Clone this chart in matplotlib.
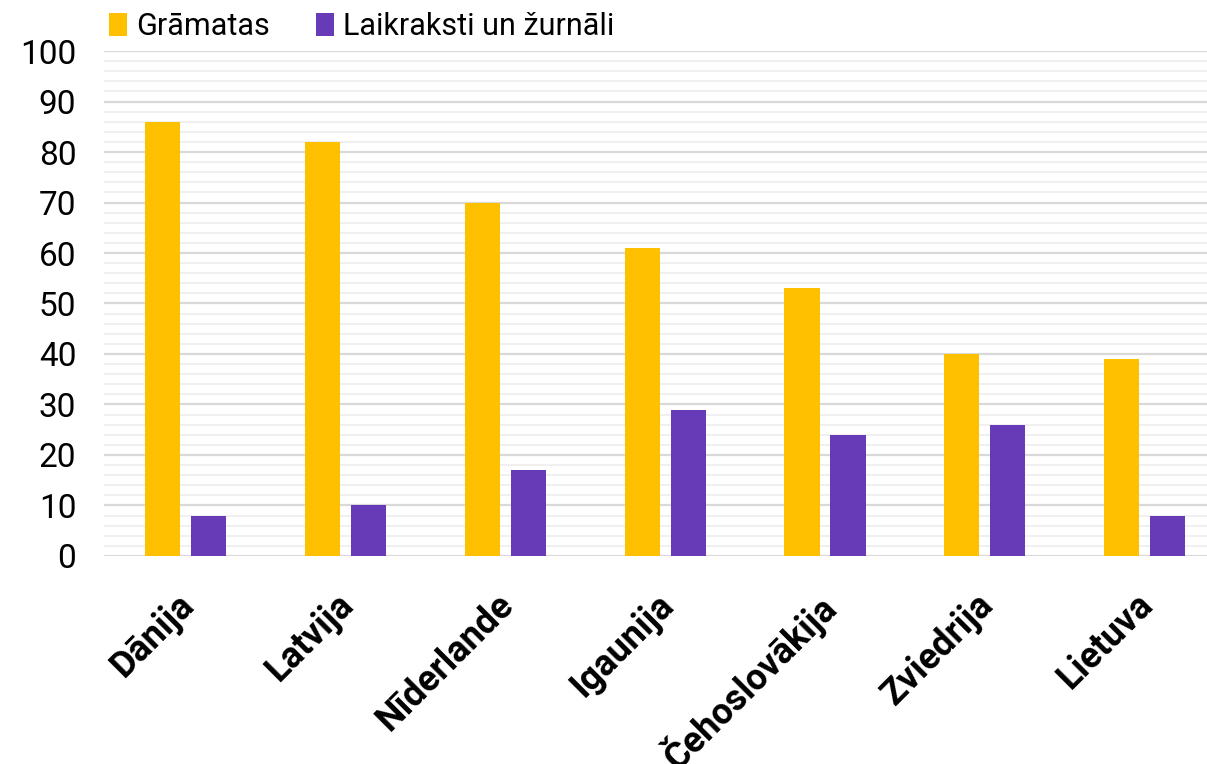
import matplotlib.pyplot as plt
import numpy as np
from matplotlib.ticker import MultipleLocator
from matplotlib.transforms import ScaledTranslation

countries = ["Dānija", "Latvija", "Nīderlande", "Igaunija",
             "Čehoslovākija", "Zviedrija", "Lietuva"]
books = [86, 82, 70, 61, 53, 40, 39]
press = [8, 10, 17, 29, 24, 26, 8]
series_names = ["Grāmatas", "Laikraksti un žurnāli"]

plt.rcParams["font.family"] = ["Roboto", "DejaVu Sans"]

fig = plt.figure(figsize=(12.07, 7.64), dpi=100)
ax = fig.add_axes([0.0862, 0.2723, 0.9138, 0.6609])

x = np.arange(len(countries))
width = 0.22
off = 0.144

ax.bar(x - off, books, width, color="#FFC000", label=series_names[0], zorder=3)
ax.bar(x + off, press, width, color="#673AB7", label=series_names[1], zorder=3)

ax.set_ylim(0, 100)
ax.set_xlim(-0.51, 6.39)
ax.yaxis.set_major_locator(MultipleLocator(10))
ax.yaxis.set_minor_locator(MultipleLocator(2))
ax.grid(which="major", axis="y", color="#d9d9d9", linewidth=1.6, zorder=0)
ax.grid(which="minor", axis="y", color="#f0f0f0", linewidth=1.4, zorder=0)

for s in ax.spines.values():
    s.set_visible(False)

ax.tick_params(axis="y", which="both", length=0, labelsize=24, pad=20)
ax.tick_params(axis="x", length=0, pad=22)
ax.set_xticks(x)
ax.set_xticklabels(countries, rotation=45, ha="right", rotation_mode="anchor",
                   fontsize=26, fontweight="bold")

# nudge rotated labels a little to the left
shift = ScaledTranslation(-10 / 100, 0, fig.dpi_scale_trans)
for lbl in ax.get_xticklabels():
    lbl.set_transform(lbl.get_transform() + shift)

fig.legend(loc="upper left", bbox_to_anchor=(0.09, 0.984), ncol=2,
           frameon=False, fontsize=22, handlelength=0.6, handleheight=0.75,
           handletextpad=0.3, columnspacing=1.5, borderaxespad=0,
           borderpad=0)

fig.savefig("out.png", dpi=100)
